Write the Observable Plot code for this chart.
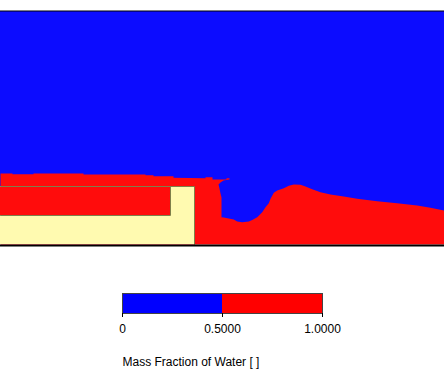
<!DOCTYPE html>
<html>
<head>
<meta charset="utf-8">
<script src="https://cdn.jsdelivr.net/npm/d3@7"></script>
<script src="https://cdn.jsdelivr.net/npm/@observablehq/plot@0.6"></script>
<style>
  html, body { margin: 0; padding: 0; background: #fff; }
  #chart svg { display: block; }
</style>
</head>
<body>
<div id="chart"></div>
<script>
// Domain extents (arbitrary length units)
const domainWidth = 444;
const domainHeight = 233;

// Free surface (water/air interface), left to right, including the air pocket
const surfaceX = [0, 12, 12, 33, 33, 83, 83, 145, 145, 153, 153, 173, 173, 205, 205, 212, 212, 226, 226, 229,
  229, 223, 220, 218, 219, 220, 221, 221, 223.3, 233.3, 236.7, 241.7, 248.3, 251.7, 256.7, 261.7, 265, 268.3,
  270, 273.3, 276.7, 283.3, 288.3, 293.3, 300, 305, 311.7, 320, 330, 343.3, 356.7, 376.7, 396.7, 416.7, 430, 444];
const surfaceH = [71, 71, 70.3, 70.3, 71, 71, 70, 70, 69.3, 69.3, 68.3, 68.3, 66.7, 66.3, 67.3, 67.3, 65, 65, 66.3, 66.3,
  65, 64, 62, 60, 56, 51, 47, 27.3, 27, 25, 23, 22.3, 23, 24.5, 27.3, 32.3, 37.3, 41.3,
  45.7, 51.7, 54, 56.3, 58.7, 60, 59.7, 58, 55.3, 52.3, 50, 48, 45.7, 43.3, 41.3, 39, 36.7, 34];

// Solid structure (L-shaped block) and the water-filled notch inside it
const blockX = [0, 194], blockH = [0, 58];
const notchX = [0, 170], notchH = [29, 57];

// Legend
const legendBins = [0, 0.5, 1];
const legendColors = ["#0000ff", "#ff0000"];
const legendTicks = [0, 0.5, 1];
const legendTitle = "Mass Fraction of Water [ ]";

const water = surfaceX.map((x, i) => ({x, h: surfaceH[i]}))
  .concat([{x: domainWidth, h: 0}, {x: 0, h: 0}]);
const outline = [
  [{x: blockX[0], h: blockH[1]}, {x: blockX[1], h: blockH[1]}, {x: blockX[1], h: blockH[0]}],
  [{x: notchX[1], h: blockH[1]}, {x: notchX[1], h: notchH[0]}, {x: notchX[0], h: notchH[0]}]
];

const main = Plot.plot({
  width: 444,
  height: 247,
  marginTop: 11,
  marginBottom: 3,
  marginLeft: 0,
  marginRight: 0,
  x: {domain: [0, domainWidth], axis: null},
  y: {domain: [0, domainHeight], axis: null},
  marks: [
    Plot.rect([{}], {x1: 0, x2: domainWidth, y1: 0, y2: domainHeight, fill: "#0c0cff"}),
    Plot.line(water, {x: "x", y: "h", fill: "#ff0c0c", stroke: "none"}),
    Plot.rect([{}], {x1: blockX[0], x2: blockX[1], y1: blockH[0], y2: blockH[1], fill: "#fffab0"}),
    Plot.rect([{}], {x1: notchX[0], x2: notchX[1], y1: notchH[0], y2: notchH[1], fill: "#ff0c0c"}),
    ...outline.map(seg => Plot.line(seg, {x: "x", y: "h", stroke: "#7f7f4a", strokeWidth: 1})),
    Plot.ruleY([domainHeight], {stroke: "#000", strokeWidth: 1, dy: -0.5}),
    Plot.ruleY([0], {stroke: "#000", strokeWidth: 2, dy: 1})
  ]
});

const bins = legendColors.map((c, i) => ({x1: legendBins[i], x2: legendBins[i + 1], fill: c}));
const legend = Plot.plot({
  width: 444,
  height: 131,
  marginTop: 46,
  marginBottom: 65,
  marginLeft: 122,
  marginRight: 122,
  style: {fontFamily: "'Liberation Sans', Arial, sans-serif", fontSize: "12px", color: "#000"},
  x: {domain: [0, 1], axis: null},
  y: {domain: [0, 1], axis: null},
  marks: [
    Plot.rect(bins, {x1: "x1", x2: "x2", y1: 0, y2: 1, fill: "fill"}),
    Plot.frame({stroke: "#444", strokeWidth: 1}),
    Plot.axisX(legendTicks, {tickSize: 4, tickPadding: 7, stroke: "#000",
      tickFormat: d => d === 0 ? "0" : d.toFixed(4), fontSize: 12, fill: "#000"}),
    Plot.text([legendTitle], {frameAnchor: "bottom-left", dy: 52, textAnchor: "start", lineAnchor: "bottom", fontSize: 12, fill: "#000"})
  ]
});

document.getElementById("chart").append(main, legend);
</script>
</body>
</html>
